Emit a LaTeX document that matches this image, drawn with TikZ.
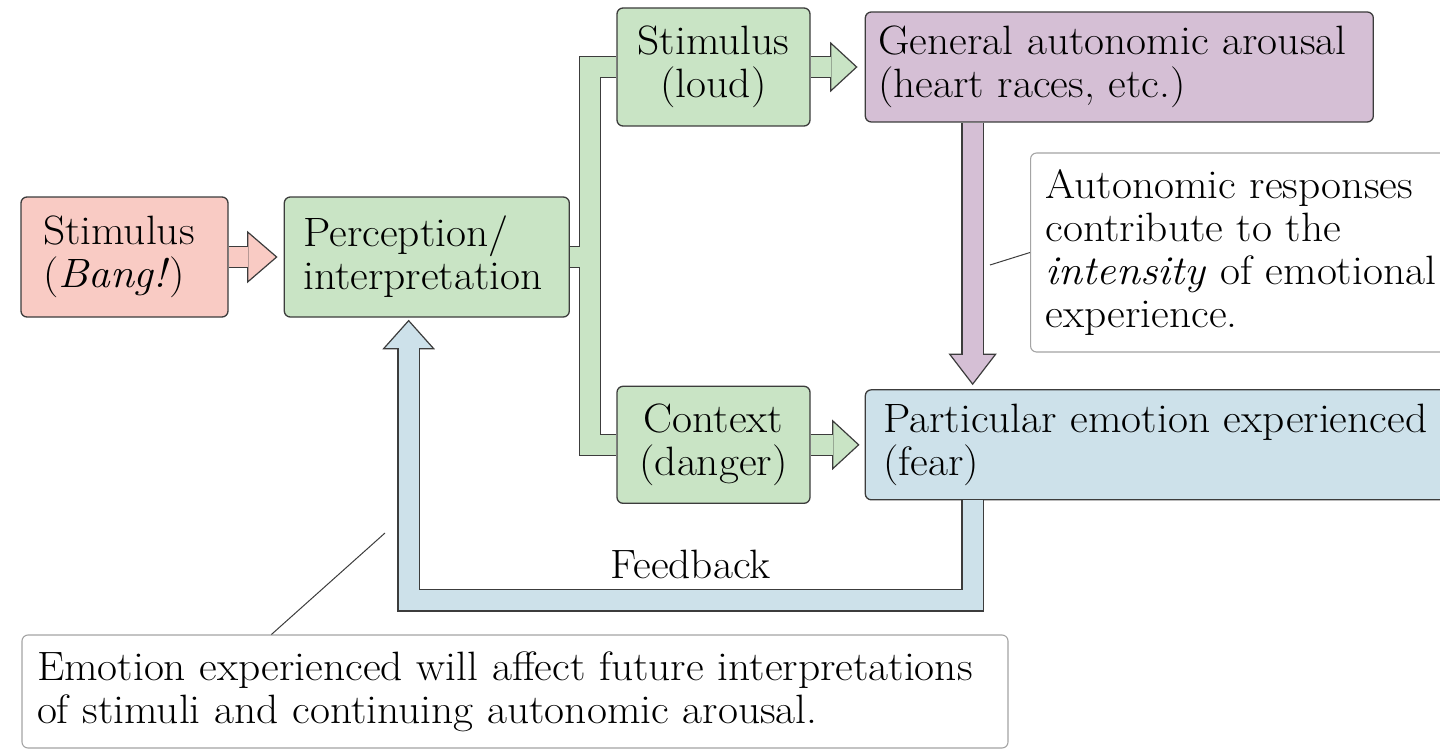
\documentclass[tikz,border=0pt]{standalone}
\usepackage{fontspec}
\setmainfont{Latin Modern Roman}[FakeStretch=1.06]
\usepackage{tikz}
\usetikzlibrary{arrows,shapes}
\usetikzlibrary{positioning,calc}
\definecolor{pinkfill}{HTML}{F9CBC4}
\definecolor{greenfill}{HTML}{C9E4C5}
\definecolor{purplefill}{HTML}{D5BFD5}
\definecolor{bluefill}{HTML}{CDE1EA}
\definecolor{linegray}{HTML}{3C3C3C}
\definecolor{notegray}{HTML}{A4A4A4}
\tikzstyle{txt} = [font=\fontsize{41}{43}\selectfont]
\tikzstyle{box} = [draw=linegray, line width=1.3pt, rounded corners=6pt,
    inner sep=0pt, align=left, txt]
\tikzstyle{note} = [box, draw=notegray, line width=1.1pt, fill=white]
\tikzstyle{fat} = [draw=linegray, line width=1.2pt, double distance=20pt]
\tikzstyle{head} = [draw=linegray, line width=1.2pt, line join=miter]
\tikzstyle{noteline} = [draw=linegray, line width=1pt]

\begin{document}
\begin{tikzpicture}[x=1pt, y=1pt]
  \useasboundingbox (0,0) rectangle (1440,-749);
  % Place nodes
  \node [box, fill=pinkfill, text width=163pt, inner xsep=22pt,
    minimum height=120pt] (bang) at (124.5,-257)
  {Stimulus\\(\textit{Bang!})};
  \node [box, fill=greenfill, text width=247pt, inner xsep=19pt,
    minimum height=120pt, right=55pt of bang] (perc)
  {Perception/\\interpretation};
  \node [box, fill=greenfill, align=center, text width=173pt, inner xsep=10pt,
    minimum height=118pt] (loud) at (713.5,-67)
  {Stimulus\\(loud)};
  \node [box, fill=greenfill, align=center, text width=173pt, inner xsep=10pt,
    minimum height=117pt, below=259pt of loud] (context)
  {Context\\(danger)};
  \node [box, fill=purplefill, text width=482pt, inner xsep=13pt,
    minimum height=110pt, right=54pt of loud] (general)
  {General autonomic arousal\\(heart races, etc.)};
  \node [box, fill=bluefill, text width=570pt, inner xsep=18pt,
    minimum height=110pt, right=54pt of context] (particular)
  {Particular emotion experienced\\(fear)};
  \node [note, text width=400pt, inner xsep=15pt, minimum height=199pt,
    anchor=west] (autnote) at (1030,-252.5)
  {Autonomic responses\\contribute to the\\\textit{intensity} of emotional\\experience.};
  \node [note, text width=956pt, inner xsep=15pt, minimum height=113pt]
    (emonote) at (515,-691.5)
  {Emotion experienced will affect future interpretations\\of stimuli and continuing autonomic arousal.};

  % Arrow heads
  \filldraw [head, fill=pinkfill] ($(perc.west)+(-7,0)$) coordinate (t1)
    -- ++(-29,25) -- ++(0,-50) -- cycle;
  \filldraw [head, fill=greenfill] ($(general.west)+(-8,0)$) coordinate (t3)
    -- ++(-26,24) -- ++(0,-48) -- cycle;
  \filldraw [head, fill=greenfill] ($(particular.west)+(-6,0)$) coordinate (t4)
    -- ++(-26,24) -- ++(0,-48) -- cycle;
  \filldraw [head, fill=purplefill] ($(particular.north west)+(108,5)$) coordinate (t5)
    -- ++(-23,30) -- ++(46,0) -- cycle;
  \filldraw [head, fill=bluefill] ($(perc.south west)+(125,-3)$) coordinate (t6)
    -- ++(-25,-28) -- ++(50,0) -- cycle;

  % Fat connectors
  \coordinate (split) at ($(perc.east)+(20,0)$);
  \draw [fat, double=pinkfill, shorten >=-0.6pt] (bang.east) -- ($(t1)+(-29,0)$);
  \draw [fat, double=greenfill] (loud.west) -| (split) |- (context.west)
    (perc.east) -- (split);
  \draw [fat, double=greenfill, shorten >=-0.6pt] (loud.east) -- ($(t3)+(-26,0)$);
  \draw [fat, double=greenfill, shorten >=-0.6pt] (context.east) -- ($(t4)+(-26,0)$);
  \draw [fat, double=purplefill, shorten >=-0.6pt] (t5 |- general.south) -- ($(t5)+(0,30)$);
  \draw [fat, double=bluefill, shorten >=-0.6pt] (t5 |- particular.south) -- ++(0,-100)
    -| node [txt, pos=0.25, above=18pt] (fb) {Feedback} ($(t6)+(0,-28)$);

  % Note lines
  \coordinate (c1) at (990,-265);
  \coordinate (c2) at (385,-533);
  \draw [noteline] (c1) -- (autnote.west);
  \draw [noteline] (c2) -- ($(emonote.north west)+(250,0)$);
\end{tikzpicture}
\end{document}
